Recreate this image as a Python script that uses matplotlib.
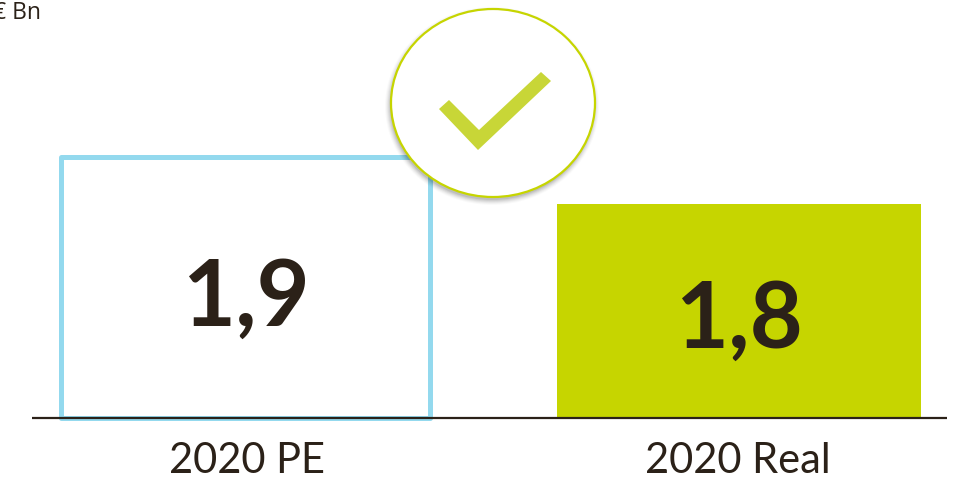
import matplotlib
matplotlib.use('Agg')
import matplotlib.pyplot as plt
from matplotlib.patches import Ellipse, Polygon

# Data
categories = ['2020 PE', '2020 Real']
value_labels = ['1,9', '1,8']
bar_heights = [261, 214]  # drawn heights in the picture, not proportional to the values
unit_label = '€ Bn'

DARK = '#2b2118'
BLUE = '#93d9ee'
GREEN = '#c6d500'
CHECK = '#c8d637'
BASE_Y = 418  # pixel row of the axis line

plt.rcParams['font.family'] = ['Open Sans', 'DejaVu Sans']

fig = plt.figure(figsize=(9.54, 4.79), dpi=100)
ax = fig.add_axes([0, 0, 1, 1])
ax.set_xlim(0, 954)
ax.set_ylim(BASE_Y - 479, BASE_Y)
ax.axis('off')

# Outlined bar and filled bar
ax.bar(245.5, bar_heights[0], width=369, facecolor='white', edgecolor=BLUE, linewidth=3.6,
       joinstyle='round', zorder=2)
ax.bar(739, bar_heights[1], width=364, color=GREEN, linewidth=0, zorder=2)

# Axis line
ax.plot([32, 947], [0, 0], color=DARK, linewidth=1.6, zorder=3, solid_capstyle='butt')

# Value labels and categories
xs = [246, 739]
ys = [118, 96]
for x, y, lab in zip(xs, ys, value_labels):
    ax.text(x, y, lab, ha='center', va='center', fontsize=66, fontweight='bold',
            family=['Lato', 'DejaVu Sans'], color=DARK, zorder=4)
for x, lab in zip([247, 738], categories):
    ax.text(x, -43, lab, ha='center', va='center', fontsize=30,
            family=['Lato', 'DejaVu Sans'], color=DARK, zorder=4)

# Unit label, cut by the left edge as in the source
ax.text(-7, BASE_Y - 13, unit_label, ha='left', va='center', fontsize=16.5, color=DARK, zorder=4)

# Soft shadow of the circle
cx, cy = 493, BASE_Y - 103
for grow, alpha in [(5, 0.02), (4, 0.03), (3, 0.04), (2, 0.05), (1, 0.06), (0, 0.08)]:
    ax.add_patch(Ellipse((cx - 1, cy - 3), 2 * (102 + grow), 2 * (94 + grow),
                         facecolor='black', edgecolor='none', alpha=alpha, zorder=5))

# Circle with the check mark
ax.add_patch(Ellipse((cx, cy), 204, 188, facecolor='white', edgecolor=GREEN, linewidth=1.6, zorder=6))
check_px = [(439, 109), (449, 100), (479, 130), (541, 72), (551, 81), (478, 150)]
ax.add_patch(Polygon([(x, BASE_Y - y) for x, y in check_px], closed=True, facecolor=CHECK,
                     edgecolor='none', zorder=7))

fig.savefig('out.png', dpi=100)
